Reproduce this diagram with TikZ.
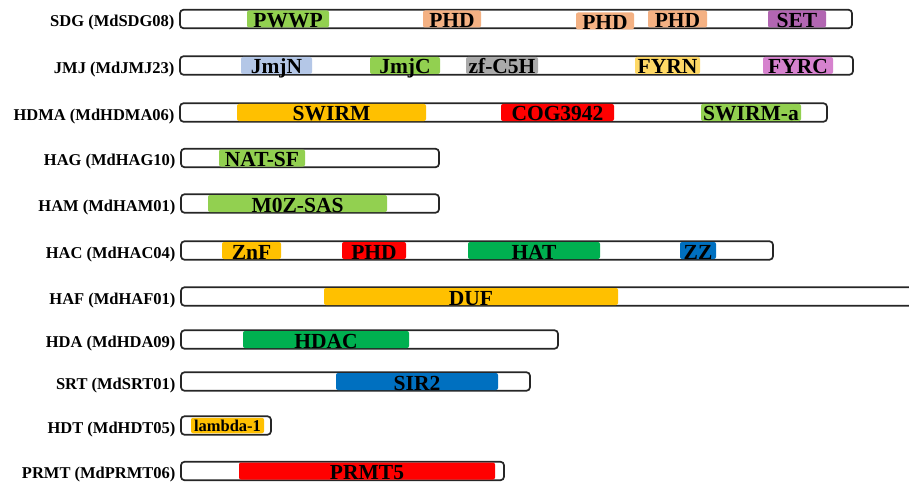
\documentclass[tikz,border=0pt]{standalone}
\usepackage{fontspec}
\setmainfont{Liberation Serif}
\definecolor{dlgreen}{RGB}{146,208,80}
\definecolor{dgreen}{RGB}{0,176,80}
\definecolor{dsalmon}{RGB}{244,177,131}
\definecolor{dpurple}{RGB}{178,102,178}
\definecolor{dlblue}{RGB}{180,199,231}
\definecolor{dgray}{RGB}{170,170,170}
\definecolor{dyellow}{RGB}{255,217,102}
\definecolor{dorchid}{RGB}{214,130,206}
\definecolor{dorange}{RGB}{255,192,0}
\definecolor{dred}{RGB}{255,0,0}
\definecolor{dblue}{RGB}{0,112,192}
\usetikzlibrary{positioning}

\tikzset{
  protbar/.style={draw=black!85, line width=1.7pt, rounded corners=3.5pt, fill=white, minimum height=18.5pt, inner sep=0pt},
  dom/.style={rounded corners=2pt, inner sep=0pt, minimum height=15.5pt, text height=17pt, text depth=0pt, font=\fontsize{21.5}{21.5}\selectfont\bfseries},
  famlbl/.style={inner sep=0pt, text height=11.5pt, text depth=0pt, yshift=-2pt, font=\fontsize{16.5}{16.5}\selectfont\bfseries}
}

\begin{document}
\begin{tikzpicture}[x=1pt, y=-1pt]
  \useasboundingbox (0,0) rectangle (909,484);
  \clip (0,0) rectangle (909,484);

  %% SDG row
  \node[protbar, minimum width=672pt] (sdg) at (516,19) {};
  \node[famlbl, left=4.5pt of sdg] (sdglbl) {SDG (MdSDG08)};
  \node[dom, fill=dlgreen, minimum width=82pt] (sdgpwwp) at (288,19) {PWWP};
  \node[dom, fill=dsalmon, minimum width=58pt] (sdgphda) at (452,19) {PHD};
  \node[dom, fill=dsalmon, minimum width=58pt, yshift=-2pt] (sdgphdb) at (605,19) {PHD};
  \node[dom, fill=dsalmon, minimum width=59pt] (sdgphdc) at (677.5,19) {PHD};
  \node[dom, fill=dpurple, minimum width=58pt] (sdgset) at (797,19) {SET};

  %% JMJ row
  \node[protbar, minimum width=673pt] (jmj) at (516.5,65.5) {};
  \node[famlbl, left=4.5pt of jmj] (jmjlbl) {JMJ (MdJMJ23)};
  \node[dom, fill=dlblue, minimum width=71pt] (jmjn) at (276.5,65.5) {JmjN};
  \node[dom, fill=dlgreen, minimum width=70pt] (jmjc) at (405,65.5) {JmjC};
  \node[dom, fill=dgray, minimum width=72pt] (jmjzf) at (502,65.5) {zf-C5H};
  \node[dom, fill=dyellow, minimum width=65pt] (jmjfyrn) at (667.5,65.5) {FYRN};
  \node[dom, fill=dorchid, minimum width=70pt] (jmjfyrc) at (798,65.5) {FYRC};

  %% HDMA row
  \node[protbar, minimum width=647pt] (hdma) at (503.5,112.5) {};
  \node[famlbl, left=4.5pt of hdma] (hdmalbl) {HDMA (MdHDMA06)};
  \node[dom, fill=dorange, minimum width=189pt] (hdmaswirm) at (331.5,112.5) {SWIRM};
  \node[dom, fill=dred, minimum width=113pt] (hdmacog) at (557.5,112.5) {COG3942};
  \node[dom, fill=dlgreen, minimum width=100pt] (hdmaswirma) at (751,112.5) {SWIRM-a};

  %% HAG row
  \node[protbar, minimum width=258pt] (hag) at (310,158) {};
  \node[famlbl, left=4.5pt of hag] (haglbl) {HAG (MdHAG10)};
  \node[dom, fill=dlgreen, minimum width=86pt] (hagnat) at (262,158) {NAT-SF};

  %% HAM row
  \node[protbar, minimum width=258pt] (ham) at (310,203.5) {};
  \node[famlbl, left=4.5pt of ham] (hamlbl) {HAM (MdHAM01)};
  \node[dom, fill=dlgreen, minimum width=179pt] (hammoz) at (297.5,203.5) {M0Z-SAS};

  %% HAC row
  \node[protbar, minimum width=592pt] (hac) at (477,250.5) {};
  \node[famlbl, left=4.5pt of hac] (haclbl) {HAC (MdHAC04)};
  \node[dom, fill=dorange, minimum width=59pt] (haczn) at (251.5,250.5) {ZnF};
  \node[dom, fill=dred, minimum width=64pt] (hacphd) at (374,250.5) {PHD};
  \node[dom, fill=dgreen, minimum width=132pt] (hachat) at (534,250.5) {HAT};
  \node[dom, fill=dblue, minimum width=36pt] (haczz) at (698,250.5) {ZZ};

  %% HAF row (runs off the right edge)
  \node[protbar, minimum width=759pt] (haf) at (560.5,296.5) {};
  \node[famlbl, left=4.5pt of haf] (haflbl) {HAF (MdHAF01)};
  \node[dom, fill=dorange, minimum width=294pt] (hafduf) at (471,296.5) {DUF};

  %% HDA row
  \node[protbar, minimum width=377pt] (hda) at (369.5,339.5) {};
  \node[famlbl, left=4.5pt of hda] (hdalbl) {HDA (MdHDA09)};
  \node[dom, fill=dgreen, minimum width=166pt] (hdahdac) at (326,339.5) {HDAC};

  %% SRT row
  \node[protbar, minimum width=349pt] (srt) at (355.5,381.5) {};
  \node[famlbl, left=4.5pt of srt] (srtlbl) {SRT (MdSRT01)};
  \node[dom, fill=dblue, minimum width=162pt] (srtsir) at (417,381.5) {SIR2};

  %% HDT row
  \node[protbar, minimum width=90pt] (hdt) at (226,425.5) {};
  \node[famlbl, left=4.5pt of hdt] (hdtlbl) {HDT (MdHDT05)};
  \node[dom, fill=dorange, minimum width=73pt, text height=12.5pt, font=\fontsize{16.5}{16.5}\selectfont\bfseries] (hdtlam) at (227.5,425.5) {lambda-1};

  %% PRMT row
  \node[protbar, minimum width=323pt] (prmt) at (342.5,471) {};
  \node[famlbl, left=4.5pt of prmt] (prmtlbl) {PRMT (MdPRMT06)};
  \node[dom, fill=dred, minimum width=256pt] (prmtprmt) at (367,471) {PRMT5};
\end{tikzpicture}
\end{document}
